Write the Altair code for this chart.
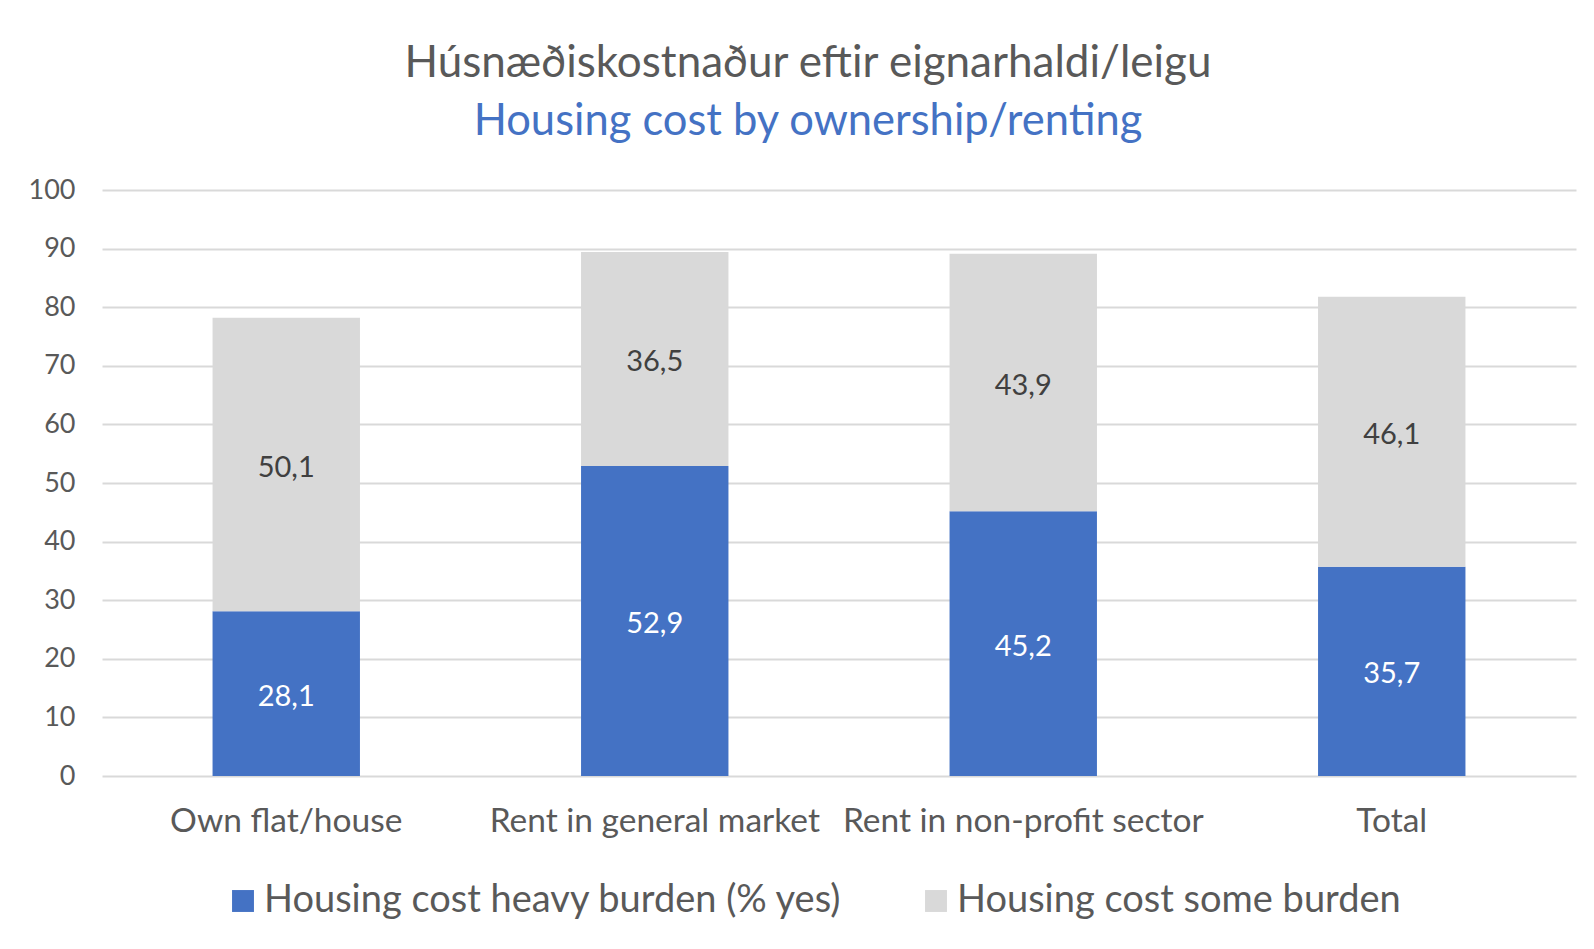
import altair as alt
import pandas as pd

categories = ["Own flat/house", "Rent in general market", "Rent in non-profit sector", "Total"]
series_names = ["Housing cost heavy burden (% yes)", "Housing cost some burden"]
heavy = [28.1, 52.9, 45.2, 35.7]
some = [50.1, 36.5, 43.9, 46.1]
y_ticks = [0, 10, 20, 30, 40, 50, 60, 70, 80, 90, 100]

rows = []
for i, c in enumerate(categories):
    rows.append({"cat": c, "series": series_names[0], "value": heavy[i], "ord": 0})
    rows.append({"cat": c, "series": series_names[1], "value": some[i], "ord": 1})
df = pd.DataFrame(rows)

FONT = "Lato"
BLUE = "#4472C4"
GRAY = "#D9D9D9"
TXT = "#595959"

x_enc = alt.X("cat:N", sort=categories, title=None,
              scale=alt.Scale(paddingInner=0.6, paddingOuter=0.3),
              axis=alt.Axis(labelAngle=0, labelFontSize=33.5, labelColor=TXT, labelFont=FONT,
                            ticks=False, domain=False, labelPadding=29, grid=False,
                            labelLimit=600))
color_enc = alt.Color("series:N", sort=series_names,
                      scale=alt.Scale(domain=series_names, range=[BLUE, GRAY]),
                      legend=alt.Legend(title=None, orient="none", direction="horizontal",
                                        legendX=122, legendY=692,
                                        symbolType="square", symbolSize=480,
                                        symbolStrokeWidth=0, labelFontSize=38,
                                        labelColor=TXT, labelFont=FONT,
                                        columnPadding=74, labelOffset=2,
                                        labelLimit=900))

bars = alt.Chart(df).mark_bar().encode(
    x=x_enc,
    y=alt.Y("value:Q", stack="zero", title=None,
            scale=alt.Scale(domain=[0, 100], nice=False),
            axis=alt.Axis(values=y_ticks, labelFontSize=27, labelColor=TXT, labelFont=FONT,
                          ticks=False, domain=False, labelPadding=27,
                          gridColor=GRAY, gridWidth=2)),
    color=color_enc,
    order=alt.Order("ord:Q"),
)

labels = alt.Chart(df).transform_stack(
    stack="value", groupby=["cat"], sort=[alt.SortField("ord")], as_=["v0", "v1"]
).transform_calculate(
    mid="(datum.v0 + datum.v1) / 2",
    lab="replace(format(datum.value, '.1f'), '.', ',')",
).mark_text(fontSize=29, font=FONT, baseline="middle", dy=3).encode(
    x=alt.X("cat:N", sort=categories),
    y=alt.Y("mid:Q"),
    text="lab:N",
    color=alt.condition(alt.datum.ord == 0, alt.value("white"), alt.value("#404040")),
)

chart = alt.layer(bars, labels).properties(
    width=1474, height=586,
    background="white",
    title=alt.TitleParams(
        text="Húsnæðiskostnaður eftir eignarhaldi/leigu",
        subtitle="Housing cost by ownership/renting",
        anchor="middle", dx=-31,
        fontSize=44, font=FONT, fontWeight="normal", color=TXT,
        subtitleFontSize=43.5, subtitleFont=FONT, subtitleColor=BLUE,
        subtitlePadding=15, offset=33,
    ),
    autosize=alt.AutoSizeParams(type="none"),
    padding={"left": 94, "top": 182, "right": 10, "bottom": 165},
).configure_view(strokeWidth=0, stroke="transparent")

chart.save("out.html", embed_options={"renderer": "svg", "actions": False})
